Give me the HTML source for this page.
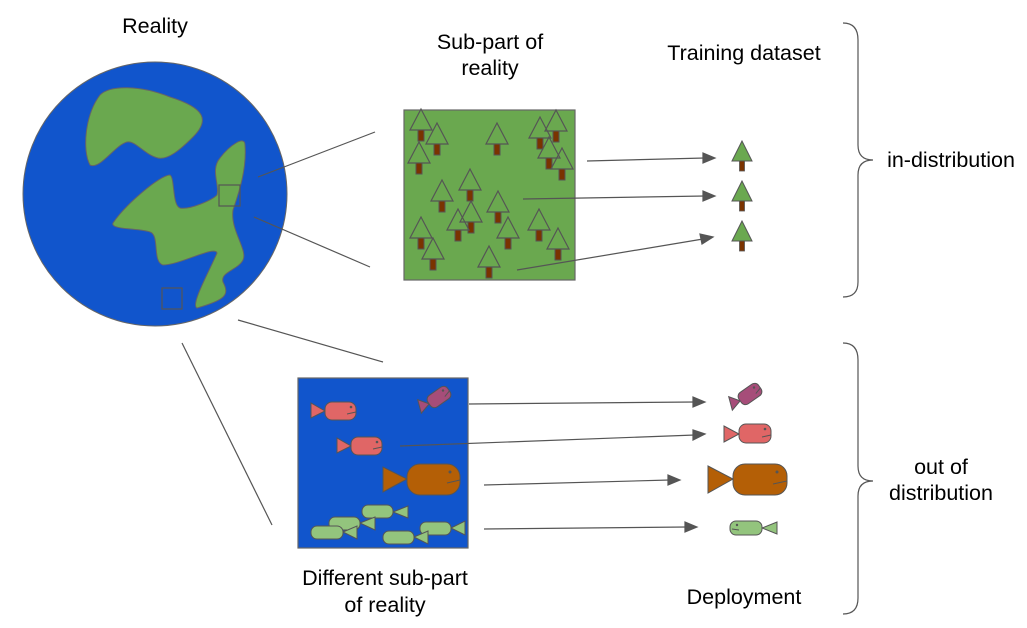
<!DOCTYPE html>
<html><head><meta charset="utf-8"><style>
html,body{margin:0;padding:0;background:#fff;}
svg{display:block;}
text{font-family:"Liberation Sans",sans-serif;font-size:21.5px;fill:#000;}
</style></head><body>
<svg width="1027" height="628" viewBox="0 0 1027 628" xmlns="http://www.w3.org/2000/svg">
<defs>
<g id="tree">
<polygon points="0,0 -11,21 11,21" fill="none" stroke="#555" stroke-width="1.2"/>
<rect x="-3" y="21" width="6" height="11" fill="#7a3300" stroke="#555" stroke-width="1"/>
</g>
<g id="treef">
<polygon points="0,0 -10,20 10,20" fill="#6aa84f" stroke="#555" stroke-width="1"/>
<rect x="-2.5" y="20" width="5" height="10" fill="#7a3300" stroke="#555" stroke-width="0.8"/>
</g>
</defs>
<text x="155" y="33" text-anchor="middle">Reality</text>
<text x="490" y="49" text-anchor="middle">Sub-part of</text>
<text x="490" y="75" text-anchor="middle">reality</text>
<text x="744" y="60" text-anchor="middle">Training dataset</text>
<text x="951" y="167" text-anchor="middle">in-distribution</text>
<text x="941" y="474" text-anchor="middle">out of</text>
<text x="941" y="500" text-anchor="middle">distribution</text>
<text x="385" y="585" text-anchor="middle">Different sub-part</text>
<text x="385" y="612" text-anchor="middle">of reality</text>
<text x="744" y="604" text-anchor="middle">Deployment</text>

<circle cx="155" cy="194" r="132" fill="#1155cc" stroke="#666" stroke-width="1"/>
<path d="M90,165 C82,150 85,115 100,95 C110,85 140,85 170,97 C205,108 210,120 193,137 C180,150 168,160 158,158 C145,155 135,140 127,142 C115,145 100,170 90,165 Z" fill="#6aa84f" stroke="#666" stroke-width="1"/>
<path d="M113,223 C125,205 160,175 170,175 C175,178 172,205 180,208 C190,210 212,200 217,195 C220,185 210,170 220,158 C230,145 245,135 245,145 C247,170 238,195 233,210 C230,230 248,250 243,260 C238,270 220,272 223,282 C230,295 225,300 197,308 C190,305 210,270 217,253 C215,245 180,265 163,265 C152,262 160,235 150,232 C140,228 110,230 113,223 Z" fill="#6aa84f" stroke="#666" stroke-width="1"/>
<rect x="219" y="185" width="21" height="21" fill="none" stroke="#555" stroke-width="1.2"/>
<rect x="162" y="288" width="20" height="21" fill="none" stroke="#555" stroke-width="1.2"/>

<g stroke="#555" stroke-width="1.2" fill="none">
<line x1="258" y1="177" x2="375" y2="132"/>
<line x1="254" y1="217" x2="370" y2="267"/>
<line x1="238" y1="320" x2="383" y2="362"/>
<line x1="182" y1="343" x2="272" y2="525"/>
<path d="M843,23 Q858,23 858,40 L858,145 Q858,160 873,160 Q858,160 858,175 L858,282 Q858,297 843,297"/>
<path d="M843,343 Q858,343 858,360 L858,466 Q858,481 873,481 Q858,481 858,496 L858,598 Q858,614 843,614"/>
</g>

<rect x="404" y="110" width="171" height="170" fill="#6aa84f" stroke="#666" stroke-width="1.2"/>
<use href="#tree" x="421" y="109"/><use href="#tree" x="437" y="123"/><use href="#tree" x="419" y="142"/>
<use href="#tree" x="497" y="123"/><use href="#tree" x="540" y="117"/><use href="#tree" x="556" y="110"/>
<use href="#tree" x="549" y="137"/><use href="#tree" x="562" y="148"/><use href="#tree" x="470" y="169"/>
<use href="#tree" x="442" y="180"/><use href="#tree" x="498" y="191"/><use href="#tree" x="471" y="201"/>
<use href="#tree" x="458" y="209"/><use href="#tree" x="421" y="217"/><use href="#tree" x="508" y="217"/>
<use href="#tree" x="539" y="209"/><use href="#tree" x="558" y="228"/><use href="#tree" x="433" y="238"/>
<use href="#tree" x="489" y="246"/>

<use href="#treef" x="742" y="141"/><use href="#treef" x="742" y="181"/><use href="#treef" x="742" y="221"/>

<rect x="298" y="378" width="170" height="170" fill="#1155cc" stroke="#666" stroke-width="1.2"/>

<g stroke="#555" stroke-width="1.2" fill="#555">
<line x1="587" y1="161" x2="705" y2="158"/><polygon points="715,158 703,153 703,163"/>
<line x1="523" y1="199" x2="705" y2="196"/><polygon points="715,196 703,191 703,201"/>
<line x1="517" y1="270" x2="703" y2="239"/><polygon points="713,237 700,234 702,244"/>
<line x1="469" y1="404" x2="695" y2="402"/><polygon points="705,402 693,397 693,407"/>
<line x1="400" y1="446" x2="695" y2="435"/><polygon points="705,434 693,430 693,440"/>
<line x1="484" y1="485" x2="670" y2="480"/><polygon points="680,480 668,475 668,485"/>
<line x1="484" y1="529" x2="687" y2="527"/><polygon points="697,527 685,522 685,532"/>
</g>

<g stroke="#555" stroke-width="1">
<polygon points="311,403 311,418 325,411" fill="#e06666"/>
<rect x="325" y="402" width="31" height="18" rx="7" fill="#e06666"/>
<circle cx="351" cy="407" r="0.8" fill="#555"/><line x1="347" y1="414" x2="356" y2="412"/>
<polygon points="337,438 337,453 351,446" fill="#e06666"/>
<rect x="351" y="437" width="31" height="18" rx="7" fill="#e06666"/>
<circle cx="377" cy="442" r="0.8" fill="#555"/><line x1="373" y1="449" x2="382" y2="447"/>
<polygon points="383,467 383,492 407,479" fill="#b45f06"/>
<rect x="407" y="464" width="53" height="31" rx="13" fill="#b45f06"/>
<circle cx="450" cy="472" r="1" fill="#555"/><line x1="447" y1="483" x2="460" y2="480"/>
<g transform="translate(439,397) rotate(-35)">
<polygon points="-12,0 -22,-7 -22,7" fill="#a64d79" transform="rotate(20 -12 0)"/>
<rect x="-12" y="-7" width="24" height="14" rx="5" fill="#a64d79"/>
<circle cx="7" cy="-3" r="0.7" fill="#555"/><line x1="5" y1="3" x2="12" y2="1"/>
</g>
<g fill="#93c47d">
<polygon points="393,512 408,506 408,518"/><rect x="362" y="505" width="31" height="13" rx="6"/>
<polygon points="360,523 375,517 375,530"/><rect x="329" y="517" width="31" height="13" rx="6"/>
<polygon points="343,532 357,526 357,539"/><rect x="311" y="526" width="32" height="13" rx="6"/>
<polygon points="451,528 465,521 465,535"/><rect x="420" y="522" width="31" height="13" rx="6"/>
<polygon points="414,537 428,531 428,544"/><rect x="383" y="531" width="31" height="13" rx="6"/>
</g>
<g transform="translate(750,394) rotate(-35)">
<polygon points="-12,0 -22,-7 -22,7" fill="#a64d79" transform="rotate(20 -12 0)"/>
<rect x="-12" y="-7" width="24" height="14" rx="5" fill="#a64d79"/>
<circle cx="7" cy="-3" r="0.7" fill="#555"/><line x1="5" y1="3" x2="12" y2="1"/>
</g>
<polygon points="724,426 724,442 739,434" fill="#e06666"/>
<rect x="739" y="424" width="32" height="19" rx="7" fill="#e06666"/>
<circle cx="765" cy="429" r="0.8" fill="#555"/><line x1="762" y1="437" x2="771" y2="435"/>
<polygon points="708,466 708,493 733,479" fill="#b45f06"/>
<rect x="733" y="464" width="54" height="31" rx="12" fill="#b45f06"/>
<circle cx="777" cy="472" r="1" fill="#555"/><line x1="773" y1="484" x2="787" y2="481"/>
<polygon points="762,528 777,522 777,534" fill="#93c47d"/>
<rect x="730" y="521" width="32" height="14" rx="6" fill="#93c47d"/>
<circle cx="737" cy="525" r="0.7" fill="#555"/><line x1="732" y1="529" x2="739" y2="530"/>
</g>
</svg>
</body></html>
